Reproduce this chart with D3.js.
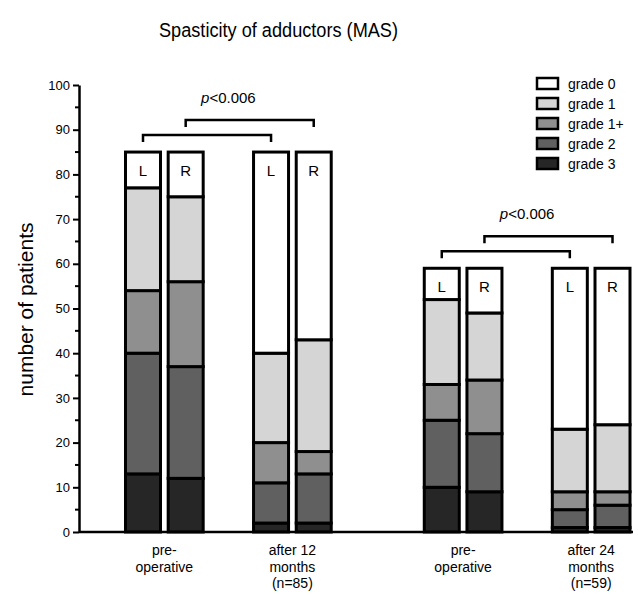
<!DOCTYPE html>
<html>
<head>
<meta charset="utf-8">
<script src="https://cdn.jsdelivr.net/npm/d3@7"></script>
<style>
  body { margin: 0; background: #fff; }
  text { font-family: "Liberation Sans", Arial, sans-serif; fill: #000; }
</style>
</head>
<body>
<div id="chart"></div>
<script>
// bars: L / R for each time point
var barSides = ["L", "R", "L", "R", "L", "R", "L", "R"];
var barSlots = [0, 1, 3, 4, 7, 8, 10, 11];
var gradeKeys = ["grade3", "grade2", "grade1p", "grade1", "grade0"];
var gradeNames = ["grade 0", "grade 1", "grade 1+", "grade 2", "grade 3"];
var gradeColors = { grade0: "#ffffff", grade1: "#d5d5d5", grade1p: "#8f8f8f", grade2: "#606060", grade3: "#262626" };

var grade3 = [13, 12, 2, 2, 10, 9, 1, 1];
var grade2 = [27, 25, 9, 11, 15, 13, 4, 5];
var grade1p = [14, 19, 9, 5, 8, 12, 4, 3];
var grade1 = [23, 19, 20, 25, 19, 15, 14, 15];
var grade0 = [8, 10, 45, 42, 7, 10, 36, 35];

var catLabels = [["pre-", "operative"], ["after 12", "months", "(n=85)"], ["pre-", "operative"], ["after 24", "months", "(n=59)"]];
// category i spans bars 2i, 2i+1
var comparisons = [[0, 2, "low"], [1, 3, "high"], [4, 6, "low"], [5, 7, "high"]];
var pTexts = [["p", "<0.006", 0], ["p", "<0.006", 4]];

var width = 638, height = 595;
var margin = { top: 85, left: 79 };

var svg = d3.select("#chart").append("svg")
  .attr("width", width)
  .attr("height", height);

var rows = barSides.map(function(s, i) {
  return { side: s, slot: barSlots[i], grade3: grade3[i], grade2: grade2[i], grade1p: grade1p[i], grade1: grade1[i], grade0: grade0[i] };
});
var stacked = d3.stack().keys(gradeKeys)(rows);

var y = d3.scaleLinear().domain([0, 100]).range([532, 85]);
var x = d3.scaleLinear().domain([0, 11]).range([143, 612.5]);
var barW = 35;

// title
svg.append("text")
  .attr("x", 278.5).attr("y", 37)
  .attr("text-anchor", "middle")
  .attr("textLength", 239)
  .attr("lengthAdjust", "spacingAndGlyphs")
  .style("font-size", "20px")
  .text("Spasticity of adductors (MAS)");

// y axis
var yAxis = d3.axisLeft(y)
  .tickValues(d3.range(0, 101, 10))
  .tickSize(6)
  .tickSizeOuter(0)
  .tickPadding(3);
var gy = svg.append("g")
  .attr("transform", "translate(" + margin.left + ",0)")
  .call(yAxis);
gy.select(".domain").attr("stroke-width", 2.5);
gy.selectAll(".tick line").attr("stroke-width", 2);
gy.selectAll(".tick text")
  .style("font-size", "13px")
  .style("font-family", "'Liberation Sans', Arial, sans-serif");

svg.append("g").selectAll("line")
  .data(d3.range(5, 100, 10))
  .enter().append("line")
  .attr("x1", margin.left - 4).attr("x2", margin.left)
  .attr("y1", function(d) { return y(d); })
  .attr("y2", function(d) { return y(d); })
  .attr("stroke", "#000").attr("stroke-width", 2);

svg.append("text")
  .attr("transform", "translate(33," + (y(50) + 1) + ") rotate(-90)")
  .attr("text-anchor", "middle")
  .style("font-size", "21px")
  .text("number of patients");

// bars
var layers = svg.append("g").selectAll("g")
  .data(stacked)
  .enter().append("g")
  .attr("fill", function(d) { return gradeColors[d.key]; });

layers.selectAll("rect")
  .data(function(d) { return d; })
  .enter().append("rect")
  .attr("x", function(d) { return x(d.data.slot) - barW / 2; })
  .attr("y", function(d) { return y(d[1]); })
  .attr("width", barW)
  .attr("height", function(d) { return y(d[0]) - y(d[1]); })
  .attr("stroke", "#000")
  .attr("stroke-width", 3);

// baseline
svg.append("line")
  .attr("x1", margin.left).attr("x2", 633)
  .attr("y1", y(0)).attr("y2", y(0))
  .attr("stroke", "#000").attr("stroke-width", 2.5);

// L / R labels
var totals = rows.map(function(r) { return r.grade3 + r.grade2 + r.grade1p + r.grade1 + r.grade0; });
svg.append("g").selectAll("text")
  .data(rows)
  .enter().append("text")
  .attr("x", function(d) { return x(d.slot); })
  .attr("y", function(d, i) { return y(totals[i]) + 24; })
  .attr("text-anchor", "middle")
  .style("font-size", "15px")
  .text(function(d) { return d.side; });

// brackets
comparisons.forEach(function(c) {
  var top = y(totals[c[0]]);
  var yLine = c[2] === "low" ? top - 17 : top - 32;
  var yEnd = c[2] === "low" ? top - 10 : top - 25;
  var x1 = x(barSlots[c[0]]), x2 = x(barSlots[c[1]]);
  svg.append("path")
    .attr("d", "M" + x1 + "," + yEnd + "V" + yLine + "H" + x2 + "V" + yEnd)
    .attr("fill", "none")
    .attr("stroke", "#000")
    .attr("stroke-width", 2.5);
});

pTexts.forEach(function(p) {
  var i = p[2];
  var top = y(totals[i]);
  var cx = (x(barSlots[i]) + x(barSlots[i + 3])) / 2;
  var t = svg.append("text")
    .attr("x", cx).attr("y", top - 49)
    .attr("text-anchor", "middle")
    .style("font-size", "15px");
  t.append("tspan").style("font-style", "italic").text(p[0]);
  t.append("tspan").text(p[1]);
});

// category labels
catLabels.forEach(function(lines, i) {
  var cx = (x(barSlots[2 * i]) + x(barSlots[2 * i + 1])) / 2;
  var t = svg.append("text")
    .attr("text-anchor", "middle")
    .style("font-size", "14px");
  lines.forEach(function(l, j) {
    t.append("tspan")
      .attr("x", cx)
      .attr("y", 555 + j * 16.5)
      .text(l);
  });
});

// legend
var legend = svg.append("g").attr("transform", "translate(537,78)");
var legRows = legend.selectAll("g")
  .data(gradeNames)
  .enter().append("g")
  .attr("transform", function(d, i) { return "translate(0," + (i * 20) + ")"; });
legRows.append("rect")
  .attr("width", 21).attr("height", 11)
  .attr("fill", function(d, i) { return gradeColors[gradeKeys[4 - i]]; })
  .attr("stroke", "#000").attr("stroke-width", 2.5);
legRows.append("text")
  .attr("x", 31).attr("y", 10.5)
  .style("font-size", "14px")
  .text(function(d) { return d; });
</script>
</body>
</html>
